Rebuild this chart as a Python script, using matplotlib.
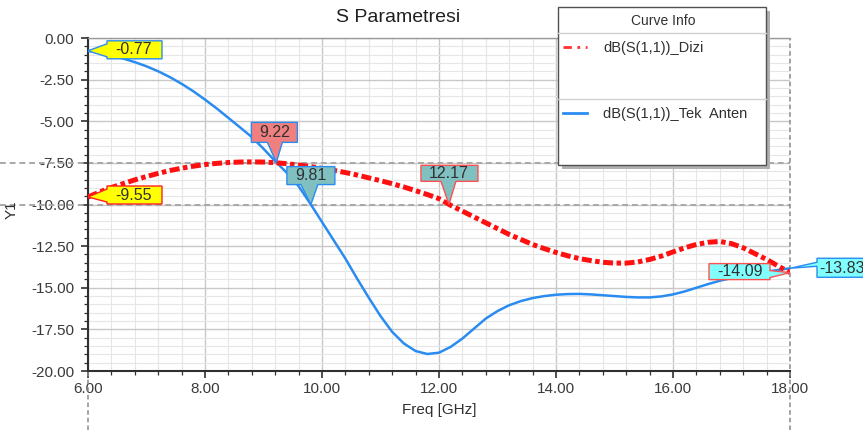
import numpy as np
import matplotlib
matplotlib.use("Agg")
import matplotlib.pyplot as plt
import matplotlib.transforms as mtransforms
from matplotlib.patches import Polygon, Rectangle
from matplotlib.lines import Line2D

plt.rcParams['font.family'] = ['Liberation Sans', 'DejaVu Sans']

# Données (GHz, dB)
freq = [6.0, 6.2, 6.4, 6.6, 6.8, 7.0, 7.2, 7.4, 7.6, 7.8,
        8.0, 8.2, 8.4, 8.6, 8.8, 9.0, 9.2, 9.4, 9.6, 9.8,
        10.0, 10.2, 10.4, 10.6, 10.8, 11.0, 11.2, 11.4, 11.6, 11.8,
        12.0, 12.2, 12.4, 12.6, 12.8, 13.0, 13.2, 13.4, 13.6, 13.8,
        14.0, 14.2, 14.4, 14.6, 14.8, 15.0, 15.2, 15.4, 15.6, 15.8,
        16.0, 16.2, 16.4, 16.6, 16.8, 17.0, 17.2, 17.4, 17.6, 17.8, 18.0]

s11_tek = [-0.77, -0.90, -1.05, -1.23, -1.45, -1.70, -2.00, -2.35, -2.75, -3.20,
           -3.70, -4.23, -4.80, -5.37, -5.95, -6.65, -7.40, -8.10, -8.90, -9.95,
           -11.05, -12.15, -13.25, -14.45, -15.60, -16.70, -17.65, -18.35, -18.80, -18.98,
           -18.90, -18.55, -18.05, -17.45, -16.85, -16.40, -16.05, -15.80, -15.62, -15.50,
           -15.42, -15.38, -15.37, -15.40, -15.45, -15.50, -15.55, -15.58, -15.58, -15.52,
           -15.40, -15.22, -15.00, -14.78, -14.58, -14.42, -14.28, -14.15, -14.03, -13.93, -13.83]

s11_dizi = [-9.55, -9.25, -8.98, -8.75, -8.52, -8.32, -8.13, -7.96, -7.82, -7.70,
            -7.60, -7.53, -7.48, -7.45, -7.44, -7.45, -7.49, -7.55, -7.63, -7.72,
            -7.83, -7.95, -8.08, -8.23, -8.40, -8.57, -8.75, -8.95, -9.17, -9.40,
            -9.65, -10.05, -10.40, -10.75, -11.10, -11.45, -11.80, -12.10, -12.40, -12.65,
            -12.88, -13.08, -13.25, -13.37, -13.47, -13.52, -13.52, -13.45, -13.30, -13.10,
            -12.85, -12.60, -12.40, -12.27, -12.22, -12.35, -12.60, -12.95, -13.30, -13.70, -14.09]

# Marqueurs verticaux (fréquence) et horizontaux (niveaux)
mark_freqs = [9.22, 9.81, 12.17]
mark_levels = [-7.5, -10.0]

W, H = 863, 430
fig = plt.figure(figsize=(W / 100, H / 100), dpi=100)
ax = fig.add_axes([88 / W, 59 / H, 702 / W, 333 / H])

fx = np.array(freq)
y_tek = np.array(s11_tek)
y_dizi = np.array(s11_dizi)

ax.plot(fx, y_tek, color='#2a8cf0', lw=1.8, zorder=4)
ax.plot(fx, y_dizi, color='#ff1010', lw=3.6, zorder=5,
        dashes=(2.0, 0.7, 0.9, 0.7), solid_capstyle='butt')

ax.set_xlim(6, 18)
ax.set_ylim(-20, 0)
ax.set_xticks(np.arange(6, 18.01, 2))
ax.set_xticks(np.arange(6, 18.01, 0.4), minor=True)
ax.set_yticks(np.arange(-20, 0.01, 2.5))
ax.set_yticks(np.arange(-20, 0.01, 0.5), minor=True)
ax.xaxis.set_major_formatter(matplotlib.ticker.FormatStrFormatter('%.2f'))
ax.yaxis.set_major_formatter(matplotlib.ticker.FormatStrFormatter('%.2f'))
ax.tick_params(which='major', length=5, width=1.2, color='#303030',
               labelsize=11, labelcolor='#3a3a3a', pad=3)
ax.tick_params(axis='y', which='major', pad=5)
ax.tick_params(which='minor', length=3, width=0.9, color='#303030')
ax.grid(which='major', color='#c8c8c8', lw=1.0)
ax.grid(which='minor', color='#e6e6e6', lw=0.8)
ax.set_axisbelow(True)

for side in ['left', 'bottom']:
    ax.spines[side].set_color('#303030')
    ax.spines[side].set_linewidth(1.5)
ax.spines['top'].set_color('#9a9a9a')
ax.spines['top'].set_linewidth(1.0)
ax.spines['right'].set_visible(False)

# lignes pointillées des marqueurs
for lvl in mark_levels:
    ax.plot([-88 / 702, 1.0], [lvl, lvl], transform=ax.get_yaxis_transform(),
            color='#a8a8a8', lw=1.4, dashes=(3, 2), clip_on=False, zorder=2)
for xv in [6.0, 18.0]:
    ax.plot([xv, xv], [-59 / 333, 1.0], transform=ax.get_xaxis_transform(),
            color='#8a8a8a', lw=1.1, dashes=(3, 2), clip_on=False, zorder=2)

fig.text(398 / W, 1 - 17 / H, "S Parametresi", ha='center', va='center',
         fontsize=14, color='#202020')
ax.set_xlabel("Freq [GHz]", fontsize=11, color='#303030', labelpad=5)
fig.text(12 / W, 1 - 210 / H, "Y1", rotation=90, ha='center', va='center',
         fontsize=11, color='#303030')


def callout(xd, yd, text, face, edge, verts, tcenter):
    # verts en pixels relatifs à la pointe (y vers le haut)
    tr = mtransforms.Affine2D() + mtransforms.ScaledTranslation(xd, yd, ax.transData)
    poly = Polygon(verts, closed=True, facecolor=face, edgecolor=edge, lw=1.0,
                   transform=tr, clip_on=False, zorder=8)
    ax.add_patch(poly)
    ax.text(tcenter[0], tcenter[1], text, transform=tr, ha='center', va='center',
            fontsize=11.5, color='#303030', clip_on=False, zorder=9)


def left_shape(x0, x1, top, bot):
    return [(0, 0), (x0, top - 3), (x0, top), (x1, top), (x1, bot), (x0, bot), (x0, bot + 2)]


def down_shape(x0, x1, b, t, l, r):
    return [(0, 0), (r, b), (x1, b), (x1, t), (x0, t), (x0, b), (l, b)]


yellow = '#ffff00'
callout(6.0, np.interp(6.0, fx, y_tek), "%.2f" % y_tek[0], yellow, '#2a8cf0',
        left_shape(19, 74, 10, -8), (46, 1))
callout(6.0, np.interp(6.0, fx, y_dizi), "%.2f" % y_dizi[0], yellow, '#ff2020',
        left_shape(19, 74, 11, -7), (46, 2))
callout(mark_freqs[0], np.interp(mark_freqs[0], fx, y_tek), "%.2f" % mark_freqs[0],
        '#f08080', '#2a8cf0', down_shape(-25, 21, 20, 40, -9, 6), (-2, 30))
callout(mark_freqs[1], np.interp(mark_freqs[1], fx, y_tek), "%.2f" % mark_freqs[1],
        '#80c0c0', '#2a8cf0', down_shape(-24, 24, 20, 38, -10, 7), (0, 29))
callout(mark_freqs[2], np.interp(mark_freqs[2], fx, y_dizi), "%.2f" % mark_freqs[2],
        '#80c0c0', '#ff5050', down_shape(-28, 29, 23, 39, -8, 7), (0, 31))
callout(18.0, y_dizi[-1], "%.2f" % y_dizi[-1], '#80ffff', '#ff5050',
        [(0, 0), (-20, -5), (-20, -7), (-81, -7), (-81, 9), (-20, 9), (-20, 2)], (-50, 1))
callout(18.0, y_tek[-1], "%.2f" % y_tek[-1], '#80ffff', '#2a8cf0',
        [(0, 0), (27, 6), (27, 10), (75, 10), (75, -9), (27, -9), (27, 2)], (52, 0))


# Légende "Curve Info"
def fpx(x, y):
    return (x / W, 1 - y / H)


bx0, bx1, by0, by1 = 558, 766, 7, 165
fig.patches.append(Rectangle(fpx(bx0 + 4, by1 + 4), (bx1 - bx0) / W, (by1 - by0) / H,
                             transform=fig.transFigure, facecolor='#b0b0b0',
                             edgecolor='none', zorder=10))
fig.patches.append(Rectangle(fpx(bx0, by1), (bx1 - bx0) / W, (by1 - by0) / H,
                             transform=fig.transFigure, facecolor='white',
                             edgecolor='#505050', lw=1.0, zorder=11))
for yy in [33, 99]:
    fig.lines.append(Line2D([bx0 / W, bx1 / W], [1 - yy / H, 1 - yy / H],
                            transform=fig.transFigure, color='#d0d0d0', lw=1.0, zorder=12))
fig.text(663 / W, 1 - 21 / H, "Curve Info", ha='center', va='center',
         fontsize=10, color='#303030', zorder=13)
fig.lines.append(Line2D([563 / W, 587 / W], [1 - 47 / H, 1 - 47 / H],
                        transform=fig.transFigure, color='#ff3030', lw=2.0,
                        dashes=(3, 2, 1, 2), zorder=13))
fig.lines.append(Line2D([563 / W, 587 / W], [1 - 113 / H, 1 - 113 / H],
                        transform=fig.transFigure, color='#2a8cf0', lw=2.0, zorder=13))
fig.text(603 / W, 1 - 48 / H, "dB(S(1,1))_Dizi", ha='left', va='center',
         fontsize=10.5, color='#303030', zorder=13)
fig.text(603 / W, 1 - 114 / H, "dB(S(1,1))_Tek  Anten", ha='left', va='center',
         fontsize=10.5, color='#303030', zorder=13)

fig.savefig("out.png", dpi=100)
